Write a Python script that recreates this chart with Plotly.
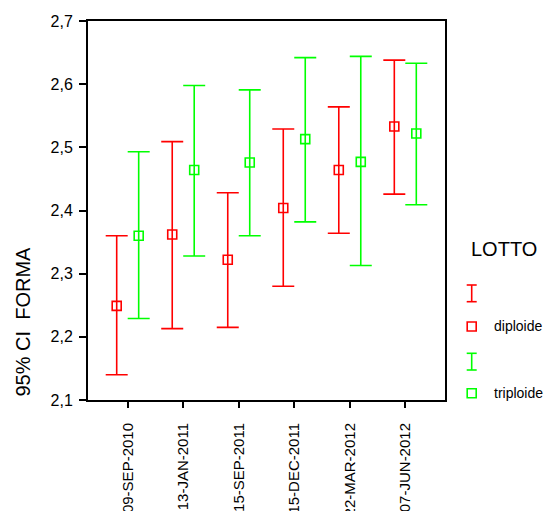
import plotly.graph_objects as go

categories = ["09-SEP-2010", "13-JAN-2011", "15-SEP-2011", "15-DEC-2011", "22-MAR-2012", "07-JUN-2012"]

dip_mean = [2.249, 2.362, 2.322, 2.404, 2.464, 2.533]
dip_low = [2.140, 2.213, 2.215, 2.280, 2.364, 2.426]
dip_high = [2.360, 2.509, 2.428, 2.529, 2.564, 2.638]

tri_mean = [2.360, 2.464, 2.476, 2.513, 2.477, 2.522]
tri_low = [2.229, 2.328, 2.360, 2.382, 2.313, 2.409]
tri_high = [2.493, 2.598, 2.591, 2.642, 2.644, 2.633]

y_ticks = [2.1, 2.2, 2.3, 2.4, 2.5, 2.6, 2.7]

RED = "#ff0000"
GREEN = "#00ff00"
FONT = "Arial, Liberation Sans, sans-serif"

W, H = 552, 511
ML, MR, MT, MB = 88, 107, 21, 111
PW = W - ML - MR
PH = H - MT - MB


def px(x):
    return (x - ML) / PW


def py(y):
    return (H - MB - y) / PH


idx = list(range(len(categories)))
off = 0.198

fig = go.Figure()


def add_series(name, mean, low, high, color, shift):
    fig.add_trace(go.Scatter(
        x=[i + shift for i in idx], y=mean, mode="markers", name=name,
        marker=dict(symbol="square-open", size=9, color=color, line=dict(width=1.6, color=color)),
        error_y=dict(type="data", symmetric=False,
                     array=[h - m for h, m in zip(high, mean)],
                     arrayminus=[m - l for m, l in zip(mean, low)],
                     color=color, thickness=1.6, width=11),
        showlegend=False,
    ))


add_series("diploide", dip_mean, dip_low, dip_high, RED, -off)
add_series("triploide", tri_mean, tri_low, tri_high, GREEN, off)

shapes = []
annotations = []


def ibeam(cx, y0, y1, color):
    shapes.append(dict(type="line", xref="paper", yref="paper", x0=px(cx), x1=px(cx), y0=py(y0), y1=py(y1), line=dict(color=color, width=1.6)))
    for yy in (y0, y1):
        shapes.append(dict(type="line", xref="paper", yref="paper", x0=px(cx - 5), x1=px(cx + 5), y0=py(yy), y1=py(yy), line=dict(color=color, width=1.6)))


def sq(cx, cy, color):
    shapes.append(dict(type="rect", xref="paper", yref="paper", x0=px(cx - 4.5), x1=px(cx + 4.5), y0=py(cy - 4.5), y1=py(cy + 4.5), line=dict(color=color, width=1.6)))


ibeam(471.7, 285, 301.7, RED)
sq(471.7, 326.5, RED)
ibeam(471.7, 353.3, 370, GREEN)
sq(471.7, 393.3, GREEN)

annotations.append(dict(text="LOTTO", xref="paper", yref="paper", x=px(504), y=py(249), showarrow=False, xanchor="center", yanchor="middle", font=dict(family=FONT, size=20, color="black")))
annotations.append(dict(text="diploide", xref="paper", yref="paper", x=px(492), y=py(326), showarrow=False, xanchor="left", yanchor="middle", font=dict(family=FONT, size=14, color="black")))
annotations.append(dict(text="triploide", xref="paper", yref="paper", x=px(492), y=py(393), showarrow=False, xanchor="left", yanchor="middle", font=dict(family=FONT, size=14, color="black")))
annotations.append(dict(text="95% CI\u00a0\u00a0FORMA", xref="paper", yref="paper", x=px(22), y=py(321.5), showarrow=False, textangle=-90, xanchor="center", yanchor="middle", font=dict(family=FONT, size=20, color="black")))

fig.update_layout(
    width=W, height=H,
    margin=dict(l=ML, r=MR, t=MT, b=MB, autoexpand=False),
    paper_bgcolor="white", plot_bgcolor="white",
    separators=",.",
    shapes=shapes, annotations=annotations,
    font=dict(family=FONT, color="black"),
)

fig.update_xaxes(
    range=[-0.715, len(categories) - 1 + 0.715],
    tickmode="array", tickvals=idx, ticktext=categories, tickangle=-90,
    showline=True, linecolor="black", linewidth=2, mirror=True,
    ticks="outside", ticklen=6, tickwidth=1.5, tickcolor="black",
    ticklabelstandoff=9,
    showgrid=False, zeroline=False, automargin=False,
    tickfont=dict(family=FONT, size=15, color="black"),
)
fig.update_yaxes(
    range=[2.1, 2.7], tickmode="array", tickvals=y_ticks, tickformat=".1f",
    showline=True, linecolor="black", linewidth=2, mirror=True,
    ticks="outside", ticklen=7, tickwidth=1.5, tickcolor="black",
    ticklabelstandoff=3,
    showgrid=False, zeroline=False, automargin=False,
    tickfont=dict(family=FONT, size=16, color="black"),
)

fig.write_html("out.html")
